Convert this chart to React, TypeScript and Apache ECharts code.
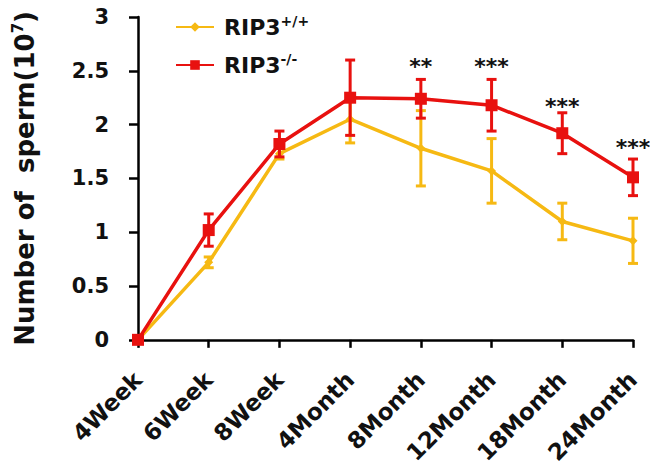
import React, { useEffect, useRef } from "react";
import * as echarts from "echarts";

const categories = ["4Week", "6Week", "8Week", "4Month", "8Month", "12Month", "18Month", "24Month"];
const wtMean = [0, 0.72, 1.73, 2.05, 1.78, 1.57, 1.1, 0.92];
const wtErr = [0, 0.05, 0.05, 0.22, 0.35, 0.3, 0.17, 0.21];
const koMean = [0, 1.02, 1.82, 2.25, 2.24, 2.18, 1.92, 1.51];
const koErr = [0, 0.15, 0.12, 0.35, 0.18, 0.24, 0.19, 0.17];
const significance = ["", "", "", "", "**", "***", "***", "***"];
const significanceAt = [0, 0, 0, 0, 2.55, 2.55, 2.18, 1.8];
const seriesNames = ["RIP3+/+", "RIP3-/-"];

const YELLOW = "#f6b913";
const RED = "#e8110f";
const FONT = "'DejaVu Sans', 'Liberation Sans', sans-serif";

function errorSeries(mean: number[], err: number[], color: string, z: number) {
  return {
    type: "custom",
    silent: true,
    clip: false,
    z,
    data: mean.map((m, i) => [i, m, err[i]]),
    renderItem: (params: any, api: any) => {
      const i = api.value(0);
      const m = api.value(1);
      const e = api.value(2);
      if (!e) return null;
      const top = api.coord([i, m + e]);
      const bot = api.coord([i, m - e]);
      const hw = 5;
      const style = { stroke: color, lineWidth: 3 };
      return {
        type: "group",
        children: [
          { type: "line", shape: { x1: top[0], y1: top[1], x2: bot[0], y2: bot[1] }, style },
          { type: "line", shape: { x1: top[0] - hw, y1: top[1], x2: top[0] + hw, y2: top[1] }, style },
          { type: "line", shape: { x1: bot[0] - hw, y1: bot[1], x2: bot[0] + hw, y2: bot[1] }, style },
        ],
      };
    },
  };
}

export default function App() {
  const ref = useRef<HTMLDivElement>(null);
  useEffect(() => {
    if (!ref.current) return;
    const chart = echarts.init(ref.current, null, { renderer: "svg" });
    chart.setOption({
      animation: false,
      backgroundColor: "#ffffff",
      grid: { left: 138, right: 17, top: 17, bottom: 123, containLabel: false },
      legend: {
        orient: "vertical",
        left: 170,
        top: 9,
        itemGap: 12,
        itemWidth: 38,
        itemHeight: 12,
        data: seriesNames,
        formatter: (name: string) => name.replace(/^RIP3(.*)$/, "{b|RIP3}{sup|$1}"),
        textStyle: {
          fontFamily: FONT,
          fontSize: 22,
          fontWeight: "bold",
          color: "#111",
          lineHeight: 26,
          padding: [0, 0, 0, 5],
          rich: {
            b: { fontFamily: FONT, fontSize: 22, fontWeight: "bold", color: "#111", lineHeight: 26 },
            sup: { fontFamily: FONT, fontSize: 14, fontWeight: "bold", color: "#111", verticalAlign: "top", lineHeight: 16 },
          },
        },
      },
      xAxis: {
        type: "category",
        data: categories,
        boundaryGap: false,
        axisLine: { lineStyle: { color: "#000", width: 2.5 } },
        axisTick: { show: true, length: 8, lineStyle: { color: "#000", width: 2.5 } },
        axisLabel: {
          interval: 0,
          rotate: 45,
          margin: 36,
          fontFamily: FONT,
          fontSize: 23,
          fontWeight: "bold",
          color: "#111",
        },
      },
      yAxis: {
        type: "value",
        min: 0,
        max: 3,
        interval: 0.5,
        splitLine: { show: false },
        axisLine: { show: true, lineStyle: { color: "#000", width: 2.5 } },
        axisTick: { show: true, length: 9, lineStyle: { color: "#000", width: 2.5 } },
        axisLabel: {
          margin: 29,
          fontFamily: FONT,
          fontSize: 21,
          fontWeight: "bold",
          color: "#111",
        },
        name: "{b|Number of  sperm(10}{sup|7}{b|)}",
        nameLocation: "middle",
        nameRotate: 90,
        nameGap: 98,
        nameTextStyle: {
          fontFamily: FONT,
          fontSize: 26,
          fontWeight: "bold",
          color: "#111",
          rich: {
            b: { fontFamily: FONT, fontSize: 26, fontWeight: "bold", color: "#111", lineHeight: 30 },
            sup: { fontFamily: FONT, fontSize: 15, fontWeight: "bold", color: "#111", verticalAlign: "top", lineHeight: 17 },
          },
        },
      },
      series: [
        {
          name: seriesNames[0],
          type: "line",
          data: wtMean,
          color: YELLOW,
          symbol: "diamond",
          symbolSize: 9,
          lineStyle: { width: 3.5, color: YELLOW },
          itemStyle: { color: YELLOW },
          z: 4,
        },
        errorSeries(wtMean, wtErr, YELLOW, 3),
        {
          name: seriesNames[1],
          type: "line",
          data: koMean,
          color: RED,
          symbol: "rect",
          symbolSize: 12,
          lineStyle: { width: 3.5, color: RED },
          itemStyle: { color: RED },
          z: 6,
        },
        errorSeries(koMean, koErr, RED, 5),
        {
          type: "custom",
          silent: true,
          clip: false,
          z: 7,
          data: significance.map((s, i) => [i, significanceAt[i]]),
          renderItem: (params: any, api: any) => {
            const i = api.value(0);
            const s = significance[i];
            if (!s) return null;
            const p = api.coord([i, api.value(1)]);
            return {
              type: "text",
              x: p[0],
              y: p[1] + 1,
              style: {
                text: s,
                fontFamily: FONT,
                fontSize: 22,
                fontWeight: "bold",
                fill: "#111",
                align: "center",
                verticalAlign: "middle",
              },
            };
          },
        },
      ],
    });
    return () => chart.dispose();
  }, []);
  return (
    <div
      ref={ref}
      style={{ position: "fixed", left: 0, top: 0, width: 650, height: 467, background: "#fff" }}
    />
  );
}
